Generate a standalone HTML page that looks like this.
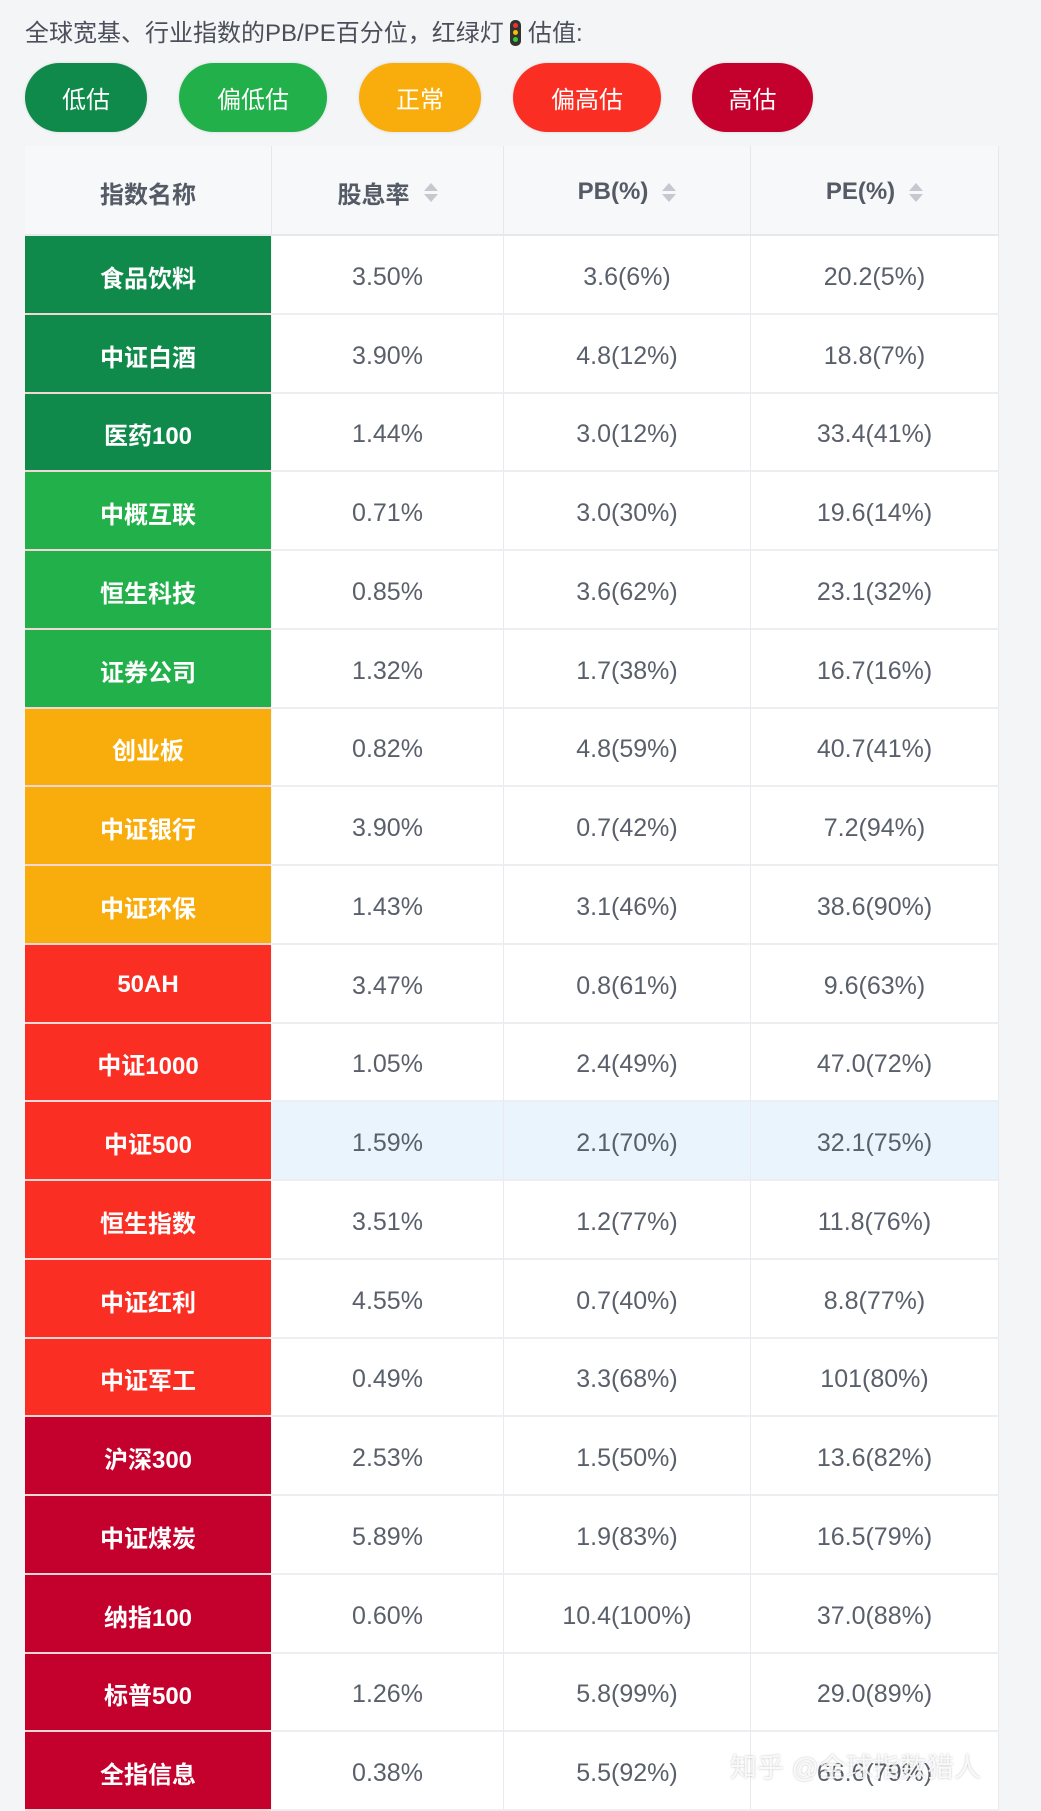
<!DOCTYPE html>
<html><head><meta charset="utf-8">
<style>
html,body{margin:0;padding:0;}
body{width:1041px;height:1804px;background:#f4f5f7;position:relative;overflow:hidden;font-family:"Liberation Sans","Noto Sans CJK SC",sans-serif;}
.abs{position:absolute;}
.title{left:25px;top:13px;font-size:24px;color:#4a4f5a;white-space:nowrap;}
.pill{height:69px;top:63px;border-radius:35px;color:#fff;font-size:24px;display:flex;align-items:center;justify-content:center;box-shadow:0 0 3px rgba(0,0,0,0.12);}
.cell{display:flex;align-items:center;justify-content:center;box-sizing:border-box;}
.hdr{background:#f7f8fa;color:#555b66;font-weight:bold;font-size:24px;border-right:1px solid #e6e8ec;border-bottom:2px solid #e6e8ec;padding-top:4px;}
.data{background:#fff;color:#5a606b;font-size:25px;border-right:1px solid #e8eaee;border-bottom:2px solid #eceef1;padding-top:6px;}
.name{color:#fff;font-weight:bold;font-size:24px;border-bottom:2px solid #f3d6d6;padding-top:4px;}
.sort{display:inline-block;margin-left:14px;vertical-align:middle;}
.sort i{display:block;width:0;height:0;border-left:7px solid transparent;border-right:7px solid transparent;}
.sort .u{border-bottom:8px solid #c4c8cf;margin-bottom:3px;}
.sort .d{border-top:8px solid #c4c8cf;}
.wm{left:730px;top:1746px;font-size:27px;color:rgba(255,255,255,0.85);text-shadow:0 0 2px rgba(0,0,0,0.25);white-space:nowrap;}
</style></head>
<body>
<div class="abs title">全球宽基、行业指数的PB/PE百分位，红绿灯 <span style="display:inline-block;width:11px;height:26px;background:#333;border-radius:5px;vertical-align:-5px;position:relative"><span style="position:absolute;left:3px;top:3px;width:5px;height:5px;border-radius:3px;background:#e33"></span><span style="position:absolute;left:3px;top:10px;width:5px;height:5px;border-radius:3px;background:#fb0"></span><span style="position:absolute;left:3px;top:17px;width:5px;height:5px;border-radius:3px;background:#3c3"></span></span> 估值:</div>
<div class="abs pill" style="left:25px;width:122px;background:#0f8a4a">低估</div>
<div class="abs pill" style="left:179px;width:148px;background:#22b04a">偏低估</div>
<div class="abs pill" style="left:359px;width:122px;background:#f8ad0c">正常</div>
<div class="abs pill" style="left:513px;width:148px;background:#fb2e24">偏高估</div>
<div class="abs pill" style="left:692px;width:121px;background:#c4002c">高估</div>
<div id="tbl"></div>
<div class="abs wm">知乎 @全球指数猎人</div>
<script>
const names=["食品饮料","中证白酒","医药100","中概互联","恒生科技","证券公司","创业板","中证银行","中证环保","50AH","中证1000","中证500","恒生指数","中证红利","中证军工","沪深300","中证煤炭","纳指100","标普500","全指信息"];
const levels=[0,0,0,1,1,1,2,2,2,3,3,3,3,3,3,4,4,4,4,4];
const dividend=["3.50%","3.90%","1.44%","0.71%","0.85%","1.32%","0.82%","3.90%","1.43%","3.47%","1.05%","1.59%","3.51%","4.55%","0.49%","2.53%","5.89%","0.60%","1.26%","0.38%"];
const pb=["3.6(6%)","4.8(12%)","3.0(12%)","3.0(30%)","3.6(62%)","1.7(38%)","4.8(59%)","0.7(42%)","3.1(46%)","0.8(61%)","2.4(49%)","2.1(70%)","1.2(77%)","0.7(40%)","3.3(68%)","1.5(50%)","1.9(83%)","10.4(100%)","5.8(99%)","5.5(92%)"];
const pe=["20.2(5%)","18.8(7%)","33.4(41%)","19.6(14%)","23.1(32%)","16.7(16%)","40.7(41%)","7.2(94%)","38.6(90%)","9.6(63%)","47.0(72%)","32.1(75%)","11.8(76%)","8.8(77%)","101(80%)","13.6(82%)","16.5(79%)","37.0(88%)","29.0(89%)","66.6(79%)"];
const headers=["指数名称","股息率","PB(%)","PE(%)"];
const colors=["#0f8a4a","#22b04a","#f8ad0c","#fb2e24","#c4002c"];
const colX=[25,272,504,751,999];
const top0=146,hdrH=90,rowH=78.75,highlight=11;
const tbl=document.getElementById('tbl');
function mk(cls,x,y,w,h,html){const d=document.createElement('div');d.className='abs cell '+cls;d.style.left=x+'px';d.style.top=y+'px';d.style.width=w+'px';d.style.height=h+'px';d.innerHTML=html;tbl.appendChild(d);return d;}
headers.forEach((h,i)=>{
  const el=mk('hdr',colX[i],top0,colX[i+1]-colX[i],hdrH,h+(i>0?'<span class="sort"><i class="u"></i><i class="d"></i></span>':''));
  
  
});
names.forEach((n,r)=>{
  const y=top0+hdrH+r*rowH;
  const nm=mk('name',colX[0],y,colX[1]-colX[0]-1,rowH,n);
  nm.style.background=colors[levels[r]];
  
  
  [dividend,pb,pe].forEach((arr,c)=>{
    const el=mk('data',colX[c+1],y,colX[c+2]-colX[c+1],rowH,arr[r]);
    if(r===highlight)el.style.background='#eaf4fd';
    
    
  });
});
</script>
</body></html>
